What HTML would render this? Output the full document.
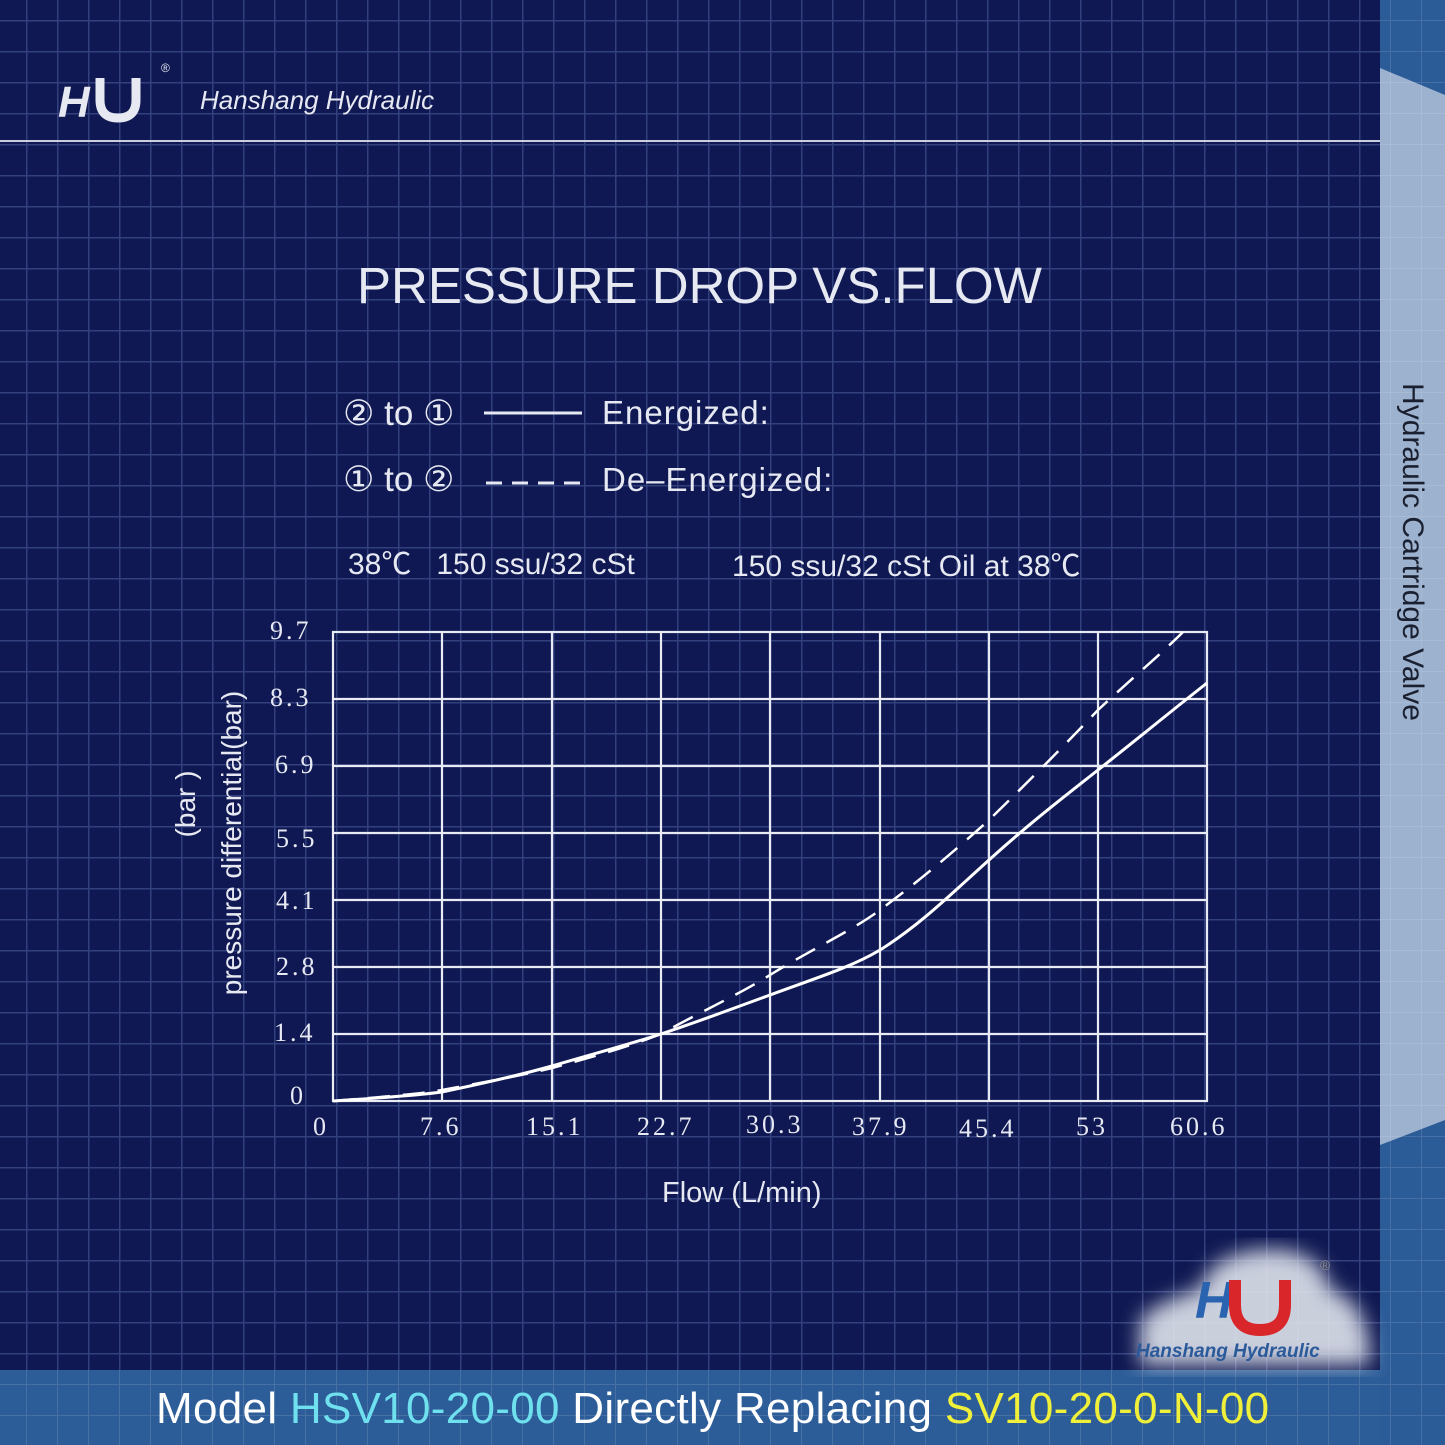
<!DOCTYPE html>
<html><head><style>
body{margin:0;width:1445px;height:1445px;overflow:hidden;background:#0f1852;font-family:"Liberation Sans",sans-serif}
.t{position:absolute;color:#e6e9f2;white-space:nowrap}
</style></head><body>
<svg width="1445" height="1445" style="position:absolute;left:0;top:0">
<defs>
<pattern id="g" width="31" height="31" patternUnits="userSpaceOnUse" x="26" y="20">
<rect width="31" height="31" fill="#0f1852"/>
<path d="M0 0H31M0 0V31" stroke="#3a4a8a" stroke-width="3" opacity="0.8"/>
</pattern>
<pattern id="g2" width="31" height="31" patternUnits="userSpaceOnUse" x="26" y="20">
<path d="M0 0H31M0 0V31" stroke="#ffffff" stroke-width="2" opacity="0.12"/>
</pattern>
<filter id="bl"><feGaussianBlur stdDeviation="10"/></filter>
</defs>
<rect width="1445" height="1445" fill="url(#g)"/>
<line x1="0" y1="141" x2="1380" y2="141" stroke="#c8cde0" stroke-width="2"/>
<rect x="1380" y="0" width="65" height="1445" fill="#2c5c98"/>
<polygon points="1380,68 1445,95 1445,1120 1380,1145" fill="#9cb2cf"/>
<rect x="1380" y="0" width="65" height="1445" fill="url(#g2)"/>
<rect x="0" y="1370" width="1380" height="75" fill="#2d5d98"/>
<rect x="0" y="1370" width="1380" height="75" fill="url(#g2)"/>
<!-- bottom logo -->
<path d="M1140 1365 L1140 1320 Q1160 1300 1200 1290 Q1210 1255 1260 1250 Q1320 1245 1330 1290 Q1370 1300 1370 1365 Z" fill="#dfe3ec" opacity="0.9" filter="url(#bl)"/>
<text x="1195" y="1318" font-family="Liberation Sans" font-weight="bold" font-style="italic" font-size="52" fill="#2a64b0">H</text>
<path d="M1235 1280 V1305 Q1235 1330 1260 1330 Q1285 1330 1285 1305 V1280" stroke="#d9262a" stroke-width="12" fill="none"/>
<text x="1320" y="1270" font-size="14" fill="#888">®</text>
<text x="1136" y="1357" font-family="Liberation Sans" font-weight="bold" font-style="italic" font-size="19" fill="#2a5a9a">Hanshang Hydraulic</text>
<!-- top logo -->
<text x="58" y="117" font-family="Liberation Sans" font-weight="bold" font-style="italic" font-size="44" fill="#e6e9f2">H</text>
<path d="M100 78 V100 Q100 118 118 118 Q136 118 136 100 V78" stroke="#e6e9f2" stroke-width="9" fill="none"/>
<text x="161" y="72" font-size="12" fill="#e6e9f2">®</text>
<!-- chart grid -->
<g stroke="#e8ebf3" stroke-width="2.2" fill="none">
<rect x="333" y="632" width="874" height="469"/>
<path d="M442 632V1101M552 632V1101M661 632V1101M770 632V1101M880 632V1101M989 632V1101M1098 632V1101"/>
<path d="M333 699H1207M333 766H1207M333 833H1207M333 900H1207M333 967H1207M333 1034H1207"/>
</g>
<path d="M333 1101 C380 1098 420 1095 442 1092 C490 1082 520 1075 552 1066 C600 1052 630 1044 661 1034 C700 1021 740 1006 770 995 C810 980 850 968 880 950 C920 925 950 895 989 860 C1030 823 1060 800 1098 770 C1140 737 1170 712 1207 683" stroke="#fff" stroke-width="3" fill="none"/>
<path d="M333 1101 C380 1097 420 1094 442 1090 C490 1081 520 1076 552 1068 C600 1055 630 1046 661 1034 C700 1012 740 994 770 975 C810 950 850 932 880 910 C920 880 950 855 989 820 C1030 780 1060 750 1098 710 C1130 680 1160 655 1183 632" stroke="#fff" stroke-width="2.5" fill="none" stroke-dasharray="22,13"/>
<line x1="484" y1="413" x2="582" y2="413" stroke="#e6e9f2" stroke-width="3"/>
<line x1="486" y1="483" x2="584" y2="483" stroke="#e6e9f2" stroke-width="3" stroke-dasharray="16,10"/>
</svg>
<div class="t" style="left:200px;top:85px;font-size:26px;font-style:italic">Hanshang Hydraulic</div>
<div class="t" style="left:357px;top:256px;font-size:51px">PRESSURE DROP VS.FLOW</div>
<div class="t" style="left:343px;top:394px;font-size:35px;font-family:'Liberation Sans','DejaVu Sans',sans-serif">② to ①</div>
<div class="t" style="left:602px;top:394px;font-size:33px;letter-spacing:1px">Energized:</div>
<div class="t" style="left:343px;top:460px;font-size:35px;font-family:'Liberation Sans','DejaVu Sans',sans-serif">① to ②</div>
<div class="t" style="left:602px;top:461px;font-size:33px;letter-spacing:1px">De–Energized:</div>
<div class="t" style="left:348px;top:539px;font-size:30px;font-family:'Liberation Sans','Noto Sans CJK SC',sans-serif">38℃ &nbsp;&nbsp;150 ssu/32 cSt</div>
<div class="t" style="left:732px;top:541px;font-size:30px;font-family:'Liberation Sans','Noto Sans CJK SC',sans-serif">150 ssu/32 cSt Oil at 38℃</div>
<div style="font-family:'Liberation Serif',serif;font-size:26px;color:#dfe3ee;letter-spacing:3px">
<div class="t" style="left:270px;top:616px">9.7</div>
<div class="t" style="left:270px;top:683px">8.3</div>
<div class="t" style="left:275px;top:750px">6.9</div>
<div class="t" style="left:276px;top:824px">5.5</div>
<div class="t" style="left:276px;top:886px">4.1</div>
<div class="t" style="left:276px;top:952px">2.8</div>
<div class="t" style="left:274px;top:1018px">1.4</div>
<div class="t" style="left:290px;top:1081px">0</div>
<div class="t" style="left:313px;top:1112px">0</div>
<div class="t" style="left:420px;top:1112px">7.6</div>
<div class="t" style="left:526px;top:1112px">15.1</div>
<div class="t" style="left:637px;top:1112px">22.7</div>
<div class="t" style="left:746px;top:1110px">30.3</div>
<div class="t" style="left:852px;top:1112px">37.9</div>
<div class="t" style="left:959px;top:1114px">45.4</div>
<div class="t" style="left:1076px;top:1112px">53</div>
<div class="t" style="left:1170px;top:1112px">60.6</div>
</div>
<div class="t" style="left:662px;top:1177px;font-size:29px">Flow (L/min)</div>
<div class="t" style="left:232px;top:843px;font-size:28px;transform:translate(-50%,-50%) rotate(-90deg)">pressure differential(bar)</div>
<div class="t" style="left:186px;top:804px;font-size:28px;transform:translate(-50%,-50%) rotate(-90deg)">(bar )</div>
<div class="t" style="left:1412px;top:552px;font-size:30px;color:#1a2030;transform:translate(-50%,-50%) rotate(90deg)">Hydraulic Cartridge Valve</div>
<div class="t" style="left:156px;top:1384px;font-size:44px;color:#fff;letter-spacing:0.3px">Model <span style="color:#6fe0ee">HSV10-20-00</span> Directly Replacing <span style="color:#f0f03a">SV10-20-0-N-00</span></div>
</body></html>
